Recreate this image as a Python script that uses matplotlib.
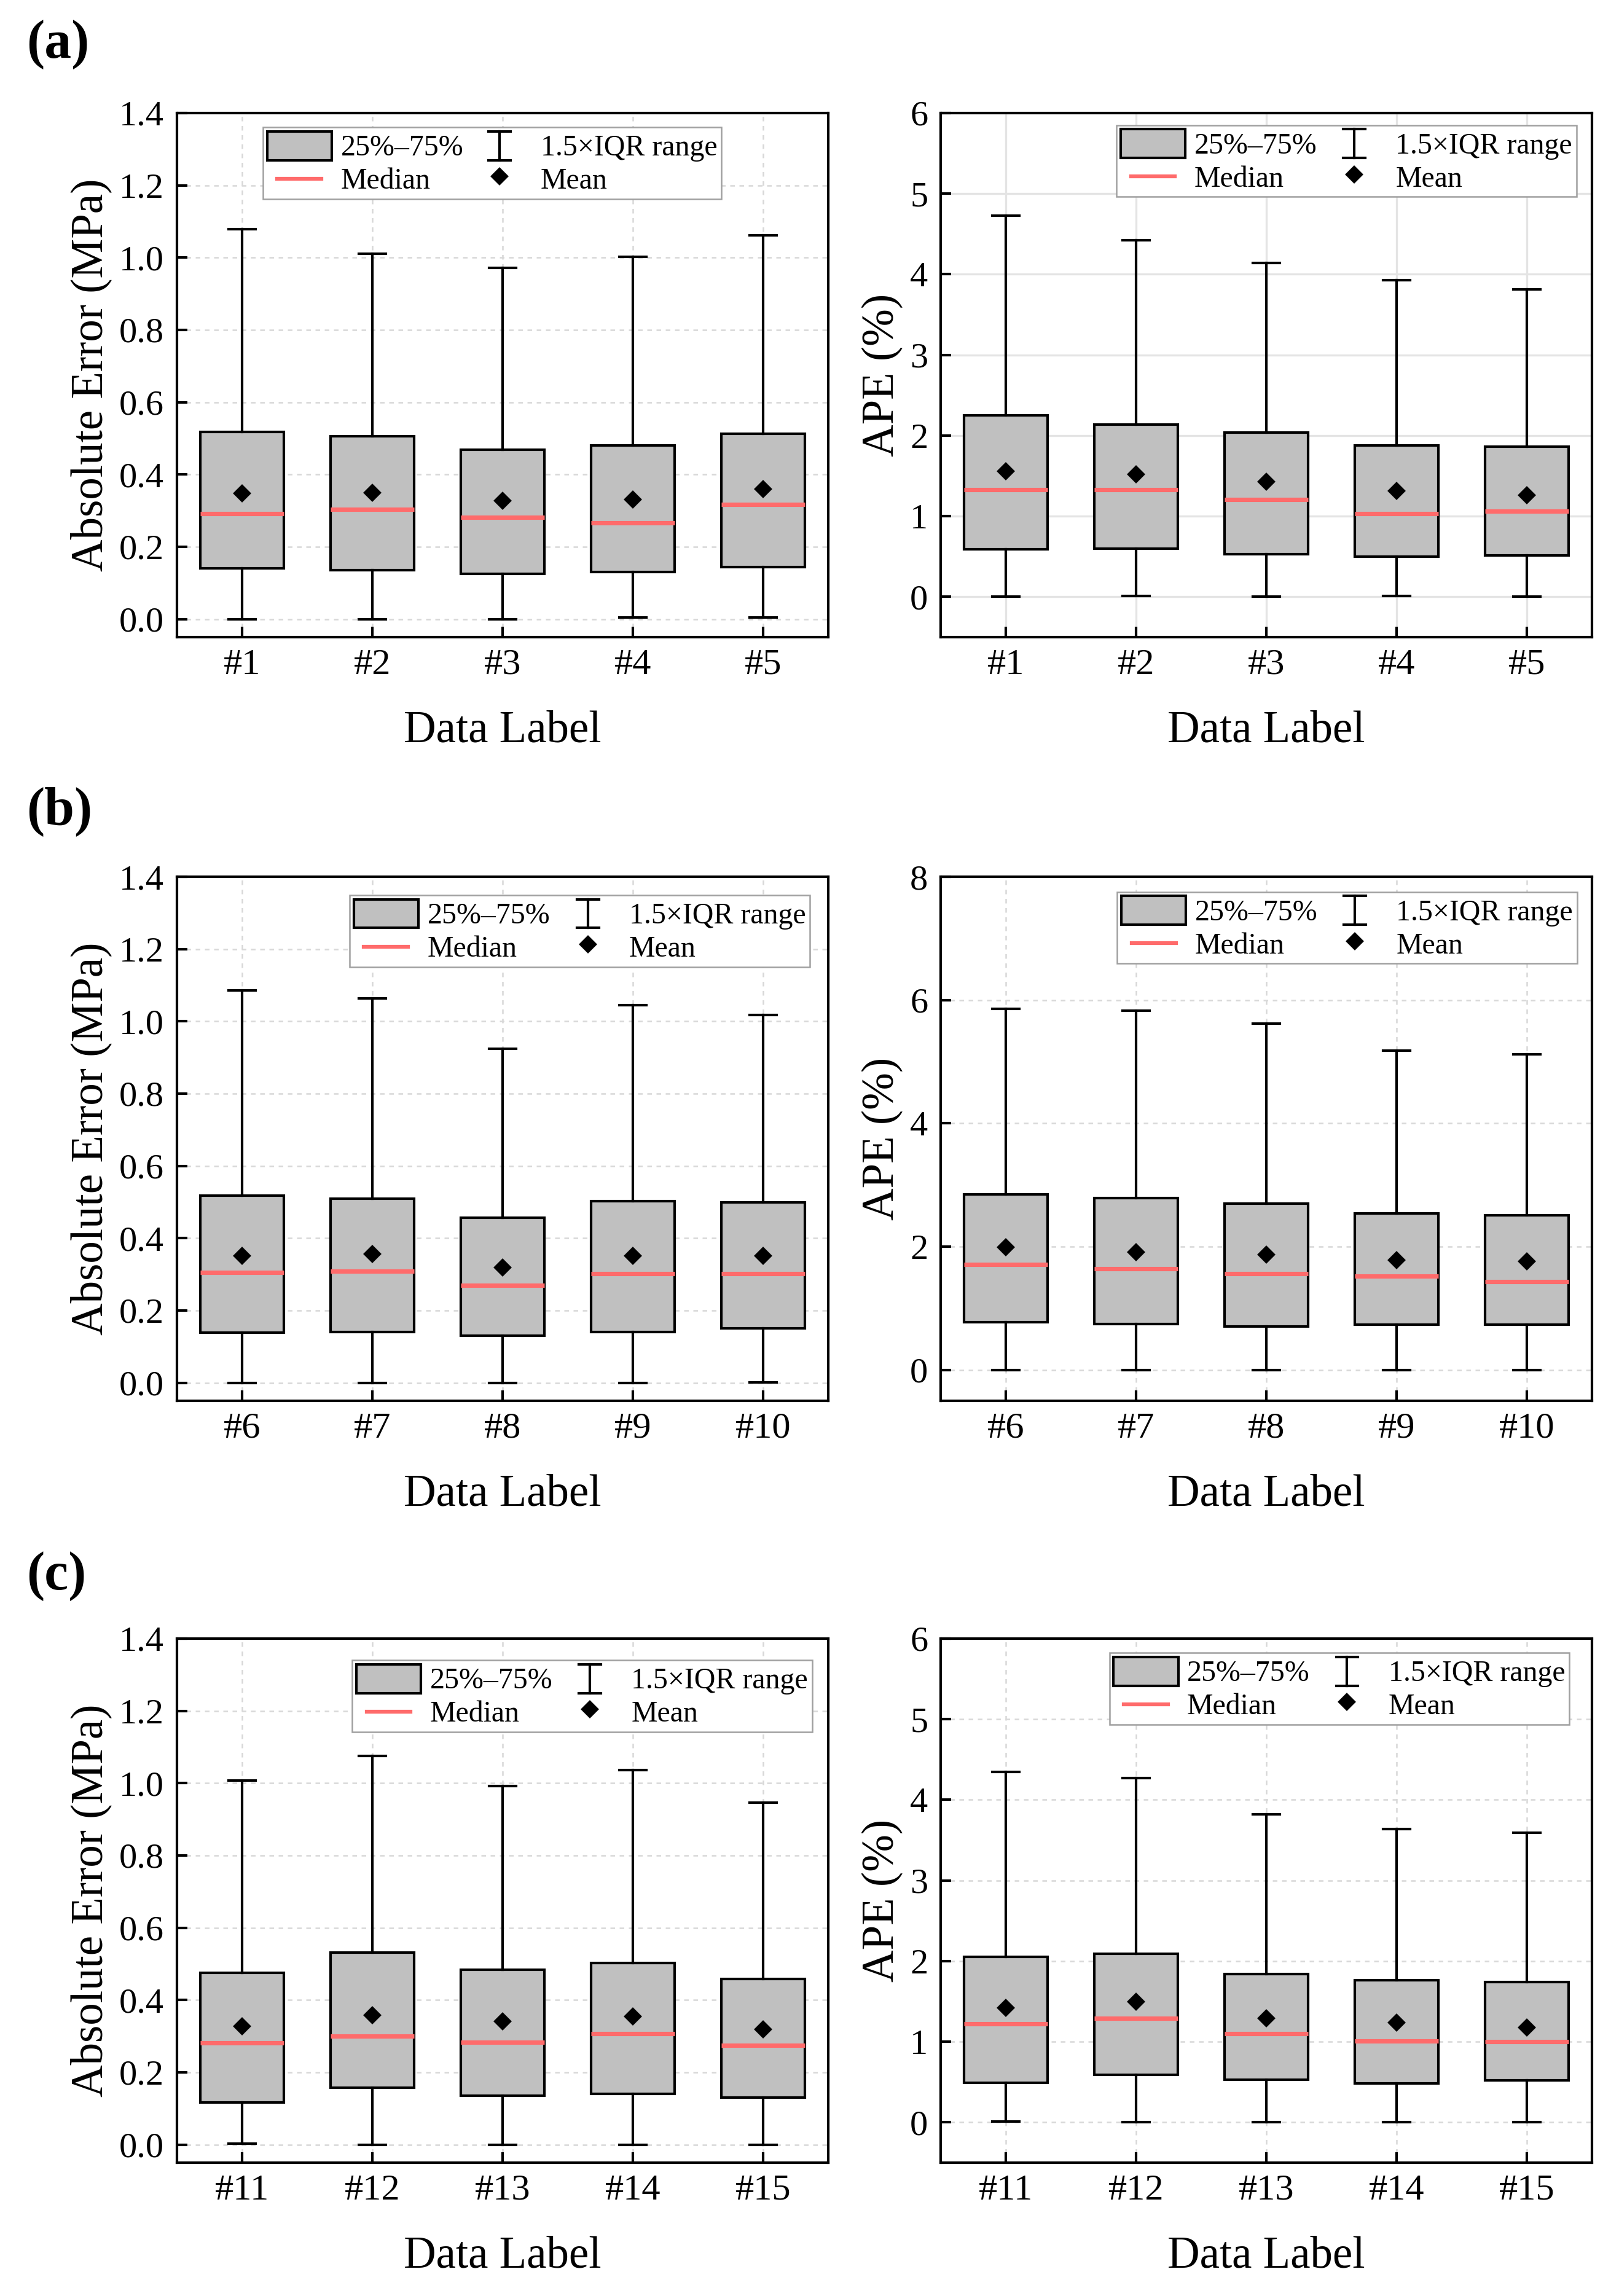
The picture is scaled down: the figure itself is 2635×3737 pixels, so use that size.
import matplotlib
matplotlib.use("Agg")
import matplotlib.pyplot as plt
from matplotlib.patches import Patch
from matplotlib.lines import Line2D
from matplotlib.legend_handler import HandlerBase
from matplotlib.ticker import FormatStrFormatter, MultipleLocator

plt.rcParams['font.family'] = ['Liberation Serif', 'DejaVu Serif']

# ---- data ----
labels_a = ['#1', '#2', '#3', '#4', '#5']
labels_b = ['#6', '#7', '#8', '#9', '#10']
labels_c = ['#11', '#12', '#13', '#14', '#15']

# (a) absolute error (MPa)
ae_a_lo = [0.0, 0.0, 0.0, 0.004, 0.004]
ae_a_q1 = [0.140, 0.135, 0.125, 0.131, 0.144]
ae_a_med = [0.292, 0.303, 0.281, 0.266, 0.318]
ae_a_mean = [0.348, 0.350, 0.327, 0.330, 0.359]
ae_a_q3 = [0.517, 0.506, 0.468, 0.480, 0.513]
ae_a_hi = [1.078, 1.010, 0.971, 1.003, 1.062]

# (a) APE (%)
ape_a_lo = [0.0, 0.01, 0.0, 0.01, 0.0]
ape_a_q1 = [0.59, 0.60, 0.53, 0.50, 0.51]
ape_a_med = [1.33, 1.33, 1.21, 1.03, 1.06]
ape_a_mean = [1.56, 1.52, 1.43, 1.31, 1.26]
ape_a_q3 = [2.25, 2.14, 2.04, 1.88, 1.86]
ape_a_hi = [4.73, 4.42, 4.14, 3.93, 3.81]

# (b) absolute error (MPa)
ae_b_lo = [0.0, 0.0, 0.0, 0.0, 0.001]
ae_b_q1 = [0.138, 0.141, 0.131, 0.141, 0.151]
ae_b_med = [0.306, 0.308, 0.270, 0.302, 0.302]
ae_b_mean = [0.352, 0.356, 0.319, 0.351, 0.351]
ae_b_q3 = [0.517, 0.509, 0.456, 0.503, 0.499]
ae_b_hi = [1.085, 1.063, 0.924, 1.044, 1.018]

# (b) APE (%)
ape_b_lo = [0.0, 0.0, 0.0, 0.0, 0.0]
ape_b_q1 = [0.78, 0.75, 0.71, 0.74, 0.74]
ape_b_med = [1.71, 1.64, 1.56, 1.52, 1.43]
ape_b_mean = [1.99, 1.91, 1.87, 1.78, 1.76]
ape_b_q3 = [2.85, 2.79, 2.70, 2.54, 2.51]
ape_b_hi = [5.86, 5.83, 5.62, 5.18, 5.12]

# (c) absolute error (MPa)
ae_c_lo = [0.003, 0.0, 0.0, 0.0, 0.0]
ae_c_q1 = [0.117, 0.157, 0.135, 0.140, 0.131]
ae_c_med = [0.281, 0.300, 0.284, 0.307, 0.275]
ae_c_mean = [0.328, 0.358, 0.341, 0.354, 0.319]
ae_c_q3 = [0.475, 0.532, 0.483, 0.502, 0.458]
ae_c_hi = [1.008, 1.076, 0.992, 1.036, 0.946]

# (c) APE (%)
ape_c_lo = [0.01, 0.0, 0.0, 0.0, 0.0]
ape_c_q1 = [0.49, 0.59, 0.53, 0.48, 0.52]
ape_c_med = [1.22, 1.29, 1.10, 1.01, 1.00]
ape_c_mean = [1.42, 1.50, 1.29, 1.24, 1.18]
ape_c_q3 = [2.05, 2.09, 1.84, 1.76, 1.74]
ape_c_hi = [4.35, 4.27, 3.82, 3.64, 3.59]

BOX_FACE = '#C0C0C0'
MED_COLOR = '#FF6B6B'
LW = 1.0
MEAN_MS = 4.0


def make_stats(lo, q1, med, mean, q3, hi, labels):
    return [dict(whislo=lo[i], q1=q1[i], med=med[i], mean=mean[i], q3=q3[i],
                 whishi=hi[i], fliers=[], label=labels[i])
            for i in range(len(labels))]


class ShortLineHandler(HandlerBase):
    def create_artists(self, legend, orig, xdescent, ydescent, width, height,
                       fontsize, trans):
        y = height / 2 - ydescent
        x0 = -xdescent + width * 0.16
        x1 = -xdescent + width * 0.84
        ln = Line2D([x0, x1], [y, y], color=orig.get_color(),
                    linewidth=orig.get_linewidth())
        ln.set_transform(trans)
        return [ln]


class IBeamHandler(HandlerBase):
    def create_artists(self, legend, orig, xdescent, ydescent, width, height,
                       fontsize, trans):
        xc = -xdescent + width / 2
        y0 = -ydescent
        y1 = height - ydescent
        c = width * 0.17
        arts = [Line2D([xc, xc], [y0, y1]),
                Line2D([xc - c, xc + c], [y1, y1]),
                Line2D([xc - c, xc + c], [y0, y0])]
        for a in arts:
            a.set_color('k')
            a.set_linewidth(LW)
            a.set_transform(trans)
        return arts


def draw_panel(ax, stats, labels, ylim, ystep, yfmt, ylabel, ylab_x,
               leg_x, leg_w, leg_top, solid_grid=False):
    ax.bxp(stats, positions=range(1, len(labels) + 1), widths=0.64,
           patch_artist=True, showmeans=True, showfliers=False,
           capwidths=0.21,
           boxprops=dict(facecolor=BOX_FACE, edgecolor='k', linewidth=LW),
           whiskerprops=dict(color='k', linewidth=LW),
           capprops=dict(color='k', linewidth=LW),
           medianprops=dict(color=MED_COLOR, linewidth=1.7),
           meanprops=dict(marker='D', markerfacecolor='k',
                          markeredgecolor='k', markersize=MEAN_MS))
    ax.set_xlim(0.5, len(labels) + 0.5)
    ax.set_ylim(*ylim)
    ax.yaxis.set_major_locator(MultipleLocator(ystep))
    ax.yaxis.set_major_formatter(FormatStrFormatter(yfmt))
    ax.set_xticks(range(1, len(labels) + 1))
    ax.set_xticklabels(labels)
    ax.set_axisbelow(True)
    if solid_grid:
        ax.grid(True, color='#E4E4E4', linewidth=0.8, linestyle='-')
    else:
        ax.grid(True, color='#D8D8D8', linewidth=0.6, linestyle=(0, (3, 3)))
    ax.tick_params(direction='in', length=4, width=LW, top=False, right=False)
    ax.tick_params(axis='y', pad=5, labelsize=14)
    ax.tick_params(axis='x', pad=4.5, labelsize=14.5)
    for s in ax.spines.values():
        s.set_linewidth(LW)
    ax.set_ylabel(ylabel, fontsize=17.5)
    ax.set_xlabel('Data Label', fontsize=17.5)
    ax.yaxis.set_label_coords(ylab_x, 0.5)
    ax.xaxis.set_label_coords(0.5, -0.14)

    box_h = Patch(facecolor=BOX_FACE, edgecolor='k', linewidth=LW)
    med_h = Line2D([], [], color=MED_COLOR, linewidth=1.5)
    iqr_h = Line2D([], [], color='k')
    mean_h = Line2D([], [], linestyle='none', marker='D', color='k',
                    markersize=MEAN_MS)
    leg = ax.legend([box_h, med_h, iqr_h, mean_h],
                    ['25%–75%', 'Median', '1.5×IQR range', 'Mean'],
                    ncol=2, loc='upper left', mode='expand',
                    bbox_to_anchor=(leg_x, leg_top - 0.3, leg_w, 0.3),
                    fontsize=11.5, handlelength=2.2, handleheight=1.13,
                    handletextpad=0.3, labelspacing=0.08, borderpad=0.14,
                    borderaxespad=0, columnspacing=0.2,
                    fancybox=False, framealpha=1, edgecolor='#A0A0A0',
                    handler_map={med_h: ShortLineHandler(),
                                 iqr_h: IBeamHandler()})
    leg.get_frame().set_linewidth(0.6)


fig = plt.figure(figsize=(2635 / 300, 3737 / 300), dpi=300)

W, H = 1060, 853
lefts = [288, 1531]
tops = [184, 1427, 2667]


def add_axes(col, row):
    return fig.add_axes([lefts[col] / 2635, 1 - (tops[row] + H) / 3737,
                         W / 2635, H / 3737])


ax = add_axes(0, 0)
draw_panel(ax, make_stats(ae_a_lo, ae_a_q1, ae_a_med, ae_a_mean, ae_a_q3, ae_a_hi, labels_a),
           labels_a, (-0.05, 1.4), 0.2, '%.1f', 'Absolute Error (MPa)', -0.100,
           0.132, 0.704, 0.973)
ax = add_axes(1, 0)
draw_panel(ax, make_stats(ape_a_lo, ape_a_q1, ape_a_med, ape_a_mean, ape_a_q3, ape_a_hi, labels_a),
           labels_a, (-0.5, 6), 1, '%d', 'APE (%)', -0.057,
           0.270, 0.706, 0.977, solid_grid=True)

ax = add_axes(0, 1)
draw_panel(ax, make_stats(ae_b_lo, ae_b_q1, ae_b_med, ae_b_mean, ae_b_q3, ae_b_hi, labels_b),
           labels_b, (-0.05, 1.4), 0.2, '%.1f', 'Absolute Error (MPa)', -0.100,
           0.265, 0.707, 0.965)
ax = add_axes(1, 1)
draw_panel(ax, make_stats(ape_b_lo, ape_b_q1, ape_b_med, ape_b_mean, ape_b_q3, ape_b_hi, labels_b),
           labels_b, (-0.5, 8), 2, '%d', 'APE (%)', -0.057,
           0.271, 0.706, 0.971)

ax = add_axes(0, 2)
draw_panel(ax, make_stats(ae_c_lo, ae_c_q1, ae_c_med, ae_c_mean, ae_c_q3, ae_c_hi, labels_c),
           labels_c, (-0.05, 1.4), 0.2, '%.1f', 'Absolute Error (MPa)', -0.100,
           0.269, 0.706, 0.959)
ax = add_axes(1, 2)
draw_panel(ax, make_stats(ape_c_lo, ape_c_q1, ape_c_med, ape_c_mean, ape_c_q3, ape_c_hi, labels_c),
           labels_c, (-0.5, 6), 1, '%d', 'APE (%)', -0.057,
           0.259, 0.706, 0.973)

for txt, yc in [('(a)', 73), ('(b)', 1321), ('(c)', 2566)]:
    fig.text(43 / 2635, 1 - yc / 3737, txt, fontsize=21, fontweight='bold',
             ha='left', va='center')

fig.savefig('out.png', dpi=300)
